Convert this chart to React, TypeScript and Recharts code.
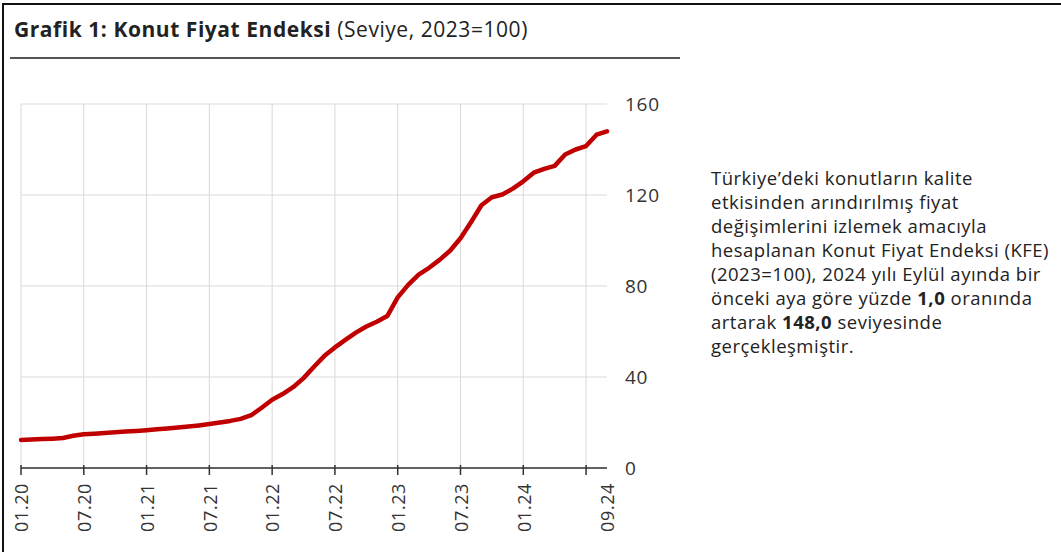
import { CartesianGrid, Line, LineChart, XAxis, YAxis } from "recharts";

const months = [
  "01.20", "02.20", "03.20", "04.20", "05.20", "06.20", "07.20", "08.20", "09.20", "10.20", "11.20", "12.20",
  "01.21", "02.21", "03.21", "04.21", "05.21", "06.21", "07.21", "08.21", "09.21", "10.21", "11.21", "12.21",
  "01.22", "02.22", "03.22", "04.22", "05.22", "06.22", "07.22", "08.22", "09.22", "10.22", "11.22", "12.22",
  "01.23", "02.23", "03.23", "04.23", "05.23", "06.23", "07.23", "08.23", "09.23", "10.23", "11.23", "12.23",
  "01.24", "02.24", "03.24", "04.24", "05.24", "06.24", "07.24", "08.24", "09.24",
];

const kfe = [
  12.3, 12.5, 12.7, 12.9, 13.2, 14.2, 14.8, 15.1, 15.4, 15.7, 16.0, 16.3,
  16.6, 17.0, 17.4, 17.8, 18.2, 18.7, 19.3, 20.0, 20.7, 21.6, 23.2, 26.5,
  30.0, 32.5, 35.5, 39.5, 44.5, 49.3, 53.0, 56.3, 59.5, 62.2, 64.3, 66.8,
  75.0, 80.5, 85.0, 88.0, 91.5, 95.5, 101.0, 108.0, 115.5, 119.0, 120.2, 122.8,
  126.0, 129.8, 131.5, 132.8, 137.8, 140.0, 141.5, 146.5, 148.0,
];

const xTicks = [0, 6, 12, 18, 24, 30, 36, 42, 48, 54, 56];
const xGrid = [0, 6, 12, 18, 24, 30, 36, 42, 48, 54];
const yTicks = [0, 40, 80, 120, 160];

const data = kfe.map((v, i) => ({ i, v }));

const FONT = "'Open Sans', 'Noto Sans', sans-serif";

const XTick = ({ x, y, payload }: any) => {
  const i = payload.value;
  return (
    <g>
      {i !== 56 && <line x1={x} x2={x} y1={y - 3} y2={y + 7} stroke="#333" strokeWidth={1.5} />}
      {i !== 54 && (
        <text
          transform={`translate(${x + 1},${y + 15}) rotate(-90)`}
          textAnchor="end"
          dy="0.35em"
          fill="#333"
          fontSize={18}
          letterSpacing={0.6}
          fontFamily={FONT}
        >
          {months[i]}
        </text>
      )}
    </g>
  );
};

export default function App() {
  return (
    <div style={{ position: "absolute", left: 0, top: 0, width: 1061, height: 552, background: "#fff", fontFamily: FONT, overflow: "hidden" }}>
      <div style={{ position: "absolute", left: 2, top: 3, width: 1059, height: 2, background: "#111" }} />
      <div style={{ position: "absolute", left: 2, top: 3, width: 2, height: 549, background: "#111" }} />
      <div style={{ position: "absolute", left: 14, top: 15, fontSize: 21, letterSpacing: 0.55, color: "#222", whiteSpace: "nowrap" }}>
        <b>Grafik 1: Konut Fiyat Endeksi</b> (Seviye, 2023=100)
      </div>
      <div style={{ position: "absolute", left: 10, top: 57, width: 670, height: 2, background: "#555" }} />

      <div style={{ position: "absolute", left: 0, top: 0 }}>
        <LineChart width={680} height={552} data={data} margin={{ top: 104, left: 21, right: 13, bottom: 14 }}>
          <CartesianGrid stroke="#d9d9d9" strokeWidth={1} verticalValues={xGrid} horizontalValues={yTicks} />
          <XAxis
            dataKey="i"
            type="number"
            domain={[0, 56]}
            ticks={xTicks}
            interval={0}
            height={70}
            tickSize={0}
            tickMargin={0}
            tickLine={false}
            axisLine={{ stroke: "#333", strokeWidth: 1.5 }}
            tick={<XTick />}
          />
          <YAxis
            orientation="right"
            domain={[0, 160]}
            ticks={yTicks}
            width={60}
            tickSize={0}
            tickMargin={18}
            tickLine={false}
            axisLine={false}
            tick={{ fill: "#333", fontSize: 19, letterSpacing: 0.7, fontFamily: FONT }}
          />
          <Line
            dataKey="v"
            type="linear"
            stroke="#c00000"
            strokeWidth={4.5}
            strokeLinejoin="round"
            strokeLinecap="round"
            dot={false}
            isAnimationActive={false}
          />
        </LineChart>
      </div>

      <div style={{ position: "absolute", left: 711, top: 166, fontSize: 18.5, letterSpacing: 0.5, lineHeight: "24px", color: "#222", whiteSpace: "nowrap" }}>
        <div>Türkiye’deki konutların kalite</div>
        <div>etkisinden arındırılmış fiyat</div>
        <div>değişimlerini izlemek amacıyla</div>
        <div>hesaplanan Konut Fiyat Endeksi (KFE)</div>
        <div>(2023=100), 2024 yılı Eylül ayında bir</div>
        <div>önceki aya göre yüzde <b>1,0</b> oranında</div>
        <div>artarak <b>148,0</b> seviyesinde</div>
        <div>gerçekleşmiştir.</div>
      </div>
    </div>
  );
}
